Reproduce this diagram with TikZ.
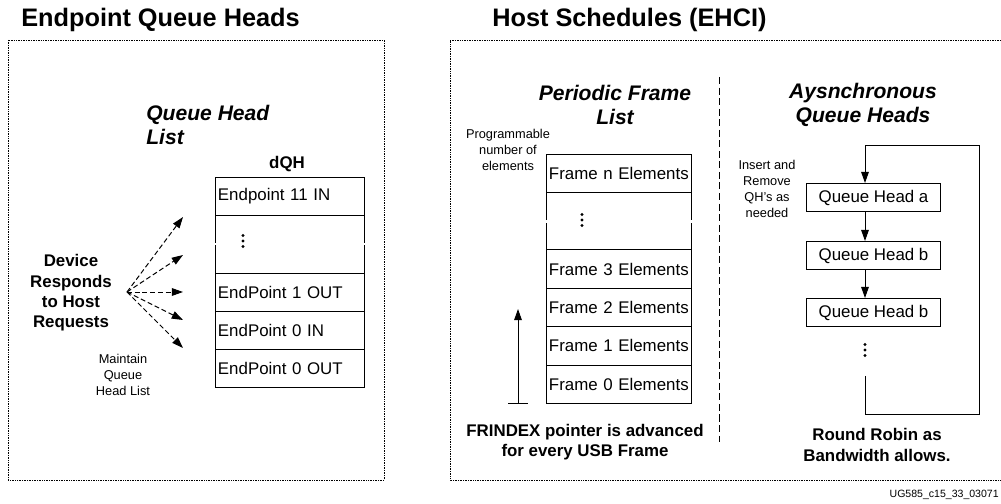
\documentclass[tikz,border=0pt]{standalone}
\usepackage{fontspec}
\setmainfont{Liberation Sans}
\usetikzlibrary{arrows.meta, positioning}

\begin{document}
\begin{tikzpicture}[
  x=0.025cm, y=-0.025cm,
  font=\fontsize{12}{14.5}\selectfont,
  title/.style={font=\fontsize{18}{21}\selectfont\bfseries, inner sep=0pt},
  listhead/.style={font=\fontsize{15}{17}\selectfont\bfseries\itshape, inner sep=0pt},
  smalltext/.style={font=\fontsize{9.1}{11.4}\selectfont, align=center, inner sep=0pt},
  boldtext/.style={font=\fontsize{12}{14.4}\selectfont\bfseries, align=center, inner sep=0pt},
  cell/.style={draw, line width=0.7pt, minimum width=3.7cm, minimum height=0.95cm,
    text width=3.6cm, inner xsep=0.05cm, align=left, outer sep=0pt},
  dotsrow/.style={cell, minimum height=1.45cm},
  framecell/.style={cell, minimum width=3.6cm, text width=3.5cm, minimum height=0.96cm},
  framedots/.style={framecell, minimum height=1.43cm},
  qhbox/.style={draw, line width=0.7pt, minimum width=3.325cm, minimum height=0.7cm, inner sep=0pt},
  panel/.style={line width=0.5pt, dash pattern=on 0.6pt off 0.6pt},
  divider/.style={line width=0.7pt, dash pattern=on 5pt off 2.5pt},
  arrow/.style={-{Triangle[length=8pt,width=5.5pt]}, line width=0.7pt},
  dasharrow/.style={arrow, dash pattern=on 3.5pt off 2pt}
]
  \useasboundingbox (0,0) rectangle (1001,504);

  % panels
  \node[title, anchor=base west] (lefttitle) at (21,27) {Endpoint Queue Heads};
  \node[title, anchor=base west] (righttitle) at (492,27) {Host Schedules (EHCI)};
  \draw[panel] (8,40) rectangle (384,480);
  \draw[panel] (1001,40) -- (450,40) -- (450,480) -- (1001,480);
  \draw[divider] (719,77) -- (719,442);

  % endpoint queue heads
  \node[listhead, anchor=west, align=left] (qhlist) at (146,125) {Queue Head\\List};
  \node[boldtext] (dqh) at (287,164) {dQH};
  \node[cell] (ep11) at (290,196) {Endpoint 11 IN};
  \node[dotsrow, below=0pt of ep11] (epdots) {};
  \node[cell, below=0pt of epdots] (ep1out) {EndPoint 1 OUT};
  \node[cell, below=0pt of ep1out] (ep0in) {EndPoint 0 IN};
  \node[cell, below=0pt of ep0in] (ep0out) {EndPoint 0 OUT};

  \node[boldtext] (device) at (71,293) {Device\\Responds\\to Host\\Requests};
  \node[smalltext] (maintain) at (123,375) {Maintain\\Queue\\Head List};
  \coordinate (src) at (127,292);
  \foreach \ty [count=\i] in {217,255,292,320,348}
    \coordinate (t\i) at (183,\ty);
  \foreach \i in {1,...,5}
    \draw[dasharrow] (src) -- (t\i);

  % periodic frame list
  \node[listhead, align=center] (pflist) at (615,105) {Periodic Frame\\List};
  \node[smalltext] (progr) at (508,150) {Programmable\\number of\\elements};
  \node[framecell] (frn) at (619,173.5) {Frame n Elements};
  \node[framedots, below=0pt of frn] (frdots) {};
  \node[framecell, below=0pt of frdots] (fr3) {Frame 3 Elements};
  \node[framecell, below=0pt of fr3] (fr2) {Frame 2 Elements};
  \node[framecell, below=0pt of fr2] (fr1) {Frame 1 Elements};
  \node[framecell, below=0pt of fr1] (fr0) {Frame 0 Elements};

  \coordinate (fbase) at (518,403);
  \coordinate (ftip) at (518,309);
  \draw[arrow] (fbase) -- (ftip);
  \draw[line width=0.7pt] (fbase) ++(-10,0) -- ++(20,0);
  \node[boldtext] (frindex) at (585,442) {FRINDEX pointer is advanced\\for every USB Frame};

  % asynchronous queue heads
  \node[listhead, align=center] (aqlist) at (863,105) {Aysnchronous\\Queue Heads};
  \node[smalltext] (insert) at (767,189) {Insert and\\Remove\\QH’s as\\needed};
  \node[qhbox] (qha) at (873.5,197.5) {Queue Head a};
  \node[qhbox] (qhb) at (873.5,255.5) {Queue Head b};
  \node[qhbox] (qhc) at (873.5,312.5) {Queue Head b};
  \coordinate (looptop) at (865,145);
  \coordinate (loopend) at (865,376);
  \coordinate (loopcorner) at (979,414);
  \draw[arrow] (qha.south -| looptop) -- (qhb.north -| looptop);
  \draw[arrow] (qhb.south -| looptop) -- (qhc.north -| looptop);
  \draw[arrow] (loopend) |- (loopcorner) |- (looptop) -- (qha.north -| looptop);
  \node[boldtext] (robin) at (877,445) {Round Robin as\\Bandwidth allows.};

  % list breaks and dots
  \foreach \p in {epdots.west, epdots.east, frdots.west, frdots.east}
    \draw[white, line width=2pt] ([xshift=-1pt]\p) -- ([xshift=1pt]\p);
  \foreach \cx/\cy in {243/241, 582/220, 865/350}
    \foreach \d in {-5.5,0,5.5}
      \fill (\cx,{\cy+\d}) circle (1.1pt);

  \node[font=\fontsize{7.5}{9}\selectfont, anchor=east, inner sep=0pt] (figid) at (999,495) {UG585\_c15\_33\_03071};
\end{tikzpicture}
\end{document}
